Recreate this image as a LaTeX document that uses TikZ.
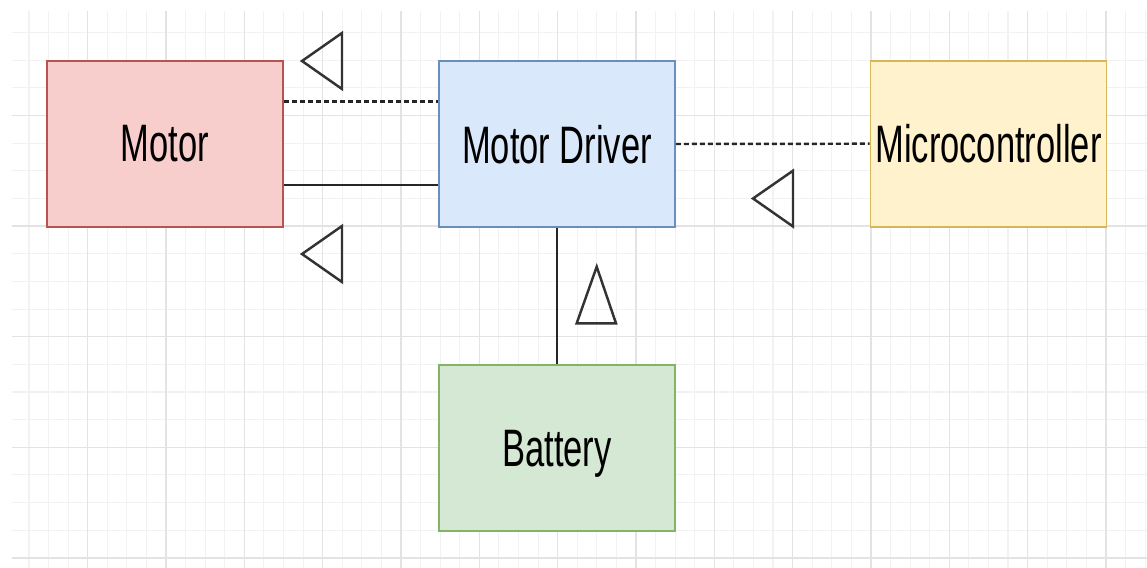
\documentclass[tikz,border=0pt]{standalone}
\usepackage{fontspec}
\setmainfont{Liberation Sans}
\usepackage{tikz}
\usetikzlibrary{calc}

\definecolor{motorfill}{HTML}{F8CECC}
\definecolor{motorline}{HTML}{B85450}
\definecolor{driverfill}{HTML}{DAE8FC}
\definecolor{driverline}{HTML}{6C8EBF}
\definecolor{mcufill}{HTML}{FFF2CC}
\definecolor{mculine}{HTML}{D6B656}
\definecolor{battfill}{HTML}{D5E8D4}
\definecolor{battline}{HTML}{82B366}
\newcommand{\boxtext}[1]{\scalebox{0.655}[1]{#1}}

\begin{document}
\begin{tikzpicture}[x=0.02cm,y=-0.02cm,
  block/.style={draw,line width=1.1pt,rectangle,inner sep=0pt,minimum width=4.72cm,minimum height=3.32cm,text depth=0pt,font=\fontsize{30}{36}\selectfont},
  wire/.style={line width=1.4pt,black!85},
  marker/.style={line width=1.4pt,black!80,line join=miter}]
\useasboundingbox (0,0) rectangle (1147,568);
% grid
\begin{scope}
\clip (12,11) rectangle (1147,568);
\foreach \i in {1,...,58} \draw[black!5,line width=0.6pt] ({9.4+19.58*\i},11) -- ({9.4+19.58*\i},568);
\foreach \j in {1,...,20} \draw[black!5,line width=0.6pt] (12,{4.9+27.65*\j}) -- (1147,{4.9+27.65*\j});
\foreach \i in {0,...,14} \draw[black!11,line width=0.7pt] ({9.4+78.33*\i},11) -- ({9.4+78.33*\i},568);
\foreach \j in {1,...,5} \draw[black!11,line width=0.7pt] (12,{4.9+110.6*\j}) -- (1147,{4.9+110.6*\j});
\end{scope}
% blocks
\node[block,fill=motorfill,draw=motorline] (motor) at (165,143.7) {\boxtext{Motor}};
\node[block,fill=driverfill,draw=driverline] (driver) at (557,144) {\boxtext{Motor Driver}};
\node[block,fill=mcufill,draw=mculine] (mcu) at (988.5,143.7) {\boxtext{Microcontroller}};
\node[block,fill=battfill,draw=battline] (battery) at (557,448.3) {\boxtext{Battery}};
% connections
\draw[wire,dash pattern=on 0.1cm off 0.06cm] (motor.east |- 0,101.7) -- (driver.west |- 0,101.7);
\draw[wire] (motor.east |- 0,185) -- (driver.west |- 0,185);
\draw[wire,dash pattern=on 0.1cm off 0.06cm] (driver.east) -- (mcu.west);
\draw[wire] (driver.south) -- (battery.north);
% direction markers
\draw[marker] (302,61) -- (342,33) -- (342,89) -- cycle;
\draw[marker] (302,254) -- (342,226) -- (342,282) -- cycle;
\draw[marker] (753,198.5) -- (793,170.7) -- (793,226.5) -- cycle;
\draw[marker] (596.7,266.7) -- (576.7,323.3) -- (616,323.3) -- cycle;
\end{tikzpicture}
\end{document}
